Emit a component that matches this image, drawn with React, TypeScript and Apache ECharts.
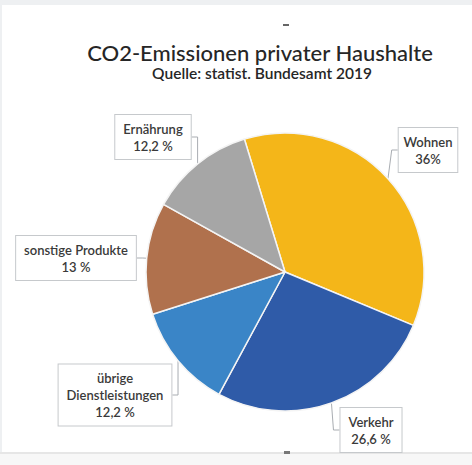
import React, { useEffect, useRef } from "react";
import * as echarts from "echarts";

const titleText = "CO2-Emissionen privater Haushalte";
const subtitleText = "Quelle: statist. Bundesamt 2019";
const categories = ["Wohnen", "Verkehr", "übrige Dienstleistungen", "sonstige Produkte", "Ernährung"];
const values = [36, 26.6, 12.2, 13, 12.2];
const percentSeparators = ["", " ", " ", " ", " "];
const colors = ["#F4B619", "#2F5BA8", "#3A85C7", "#B0714D", "#A6A6A6"];
const labelCenters: [number, number][] = [
  [428, 150],
  [371, 430],
  [115, 395],
  [76, 258],
  [153, 137],
];

export default function App() {
  const ref = useRef<HTMLDivElement>(null);
  useEffect(() => {
    if (!ref.current) return;
    const chart = echarts.init(ref.current, null, { renderer: "svg" });
    const font = "Lato, 'Noto Sans', sans-serif";
    chart.setOption({
      animation: false,
      backgroundColor: "#ffffff",
      graphic: [
        { type: "rect", shape: { x: 0, y: 0, width: 472, height: 5 }, style: { fill: "#eef0f2" }, silent: true },
        { type: "rect", shape: { x: 0, y: 0, width: 2, height: 453 }, style: { fill: "#eef0f2" }, silent: true },
        { type: "rect", shape: { x: 0, y: 453, width: 472, height: 12 }, style: { fill: "#f7f7f7" }, silent: true },
        { type: "rect", shape: { x: 0, y: 452, width: 472, height: 2 }, style: { fill: "#e6e6e6" }, silent: true },
        { type: "rect", shape: { x: 283, y: 24, width: 6, height: 2 }, style: { fill: "#666" }, silent: true },
        { type: "rect", shape: { x: 284, y: 451, width: 6, height: 3 }, style: { fill: "#777" }, silent: true },
        {
          type: "text",
          x: 260,
          y: 52,
          style: {
            text: titleText,
            align: "center",
            verticalAlign: "middle",
            fontFamily: font,
            fontSize: 22,
            fontWeight: 500,
            fill: "#262626",
          },
        },
        {
          type: "text",
          x: 262,
          y: 73,
          style: {
            text: subtitleText,
            align: "center",
            verticalAlign: "middle",
            fontFamily: font,
            fontSize: 15.5,
            fontWeight: 600,
            fill: "#262626",
          },
        },
      ],
      series: [
        {
          type: "pie",
          center: [285, 272],
          radius: 139,
          startAngle: 107,
          clockwise: true,
          color: colors,
          itemStyle: { borderColor: "#f4f4f4", borderWidth: 1.5 },
          label: {
            show: true,
            position: "outside",
            overflow: "none",
            fontFamily: font,
            fontSize: 13,
            fontWeight: 600,
            lineHeight: 17,
            color: "#3a3a3a",
            backgroundColor: "#ffffff",
            borderColor: "#c6c9cc",
            borderWidth: 1,
            padding: [5, 8],
            align: "center",
            formatter: (p: any) => {
              const name = String(p.name).replace("übrige ", "übrige\n");
              const v = String(p.value).replace(".", ",");
              return name + "\n" + v + percentSeparators[p.dataIndex] + "%";
            },
          },
          labelLine: { show: true, length: 6, length2: 6, lineStyle: { color: "#a9adb2", width: 1 } },
          labelLayout: (params: any) => {
            const c = labelCenters[params.dataIndex];
            return { x: c[0], y: c[1], align: "center", verticalAlign: "middle" };
          },
          data: categories.map((name, i) => ({ name, value: values[i] })),
        },
      ],
    });
    return () => chart.dispose();
  }, []);
  return <div ref={ref} style={{ position: "absolute", left: 0, top: 0, width: 472, height: 465 }} />;
}
